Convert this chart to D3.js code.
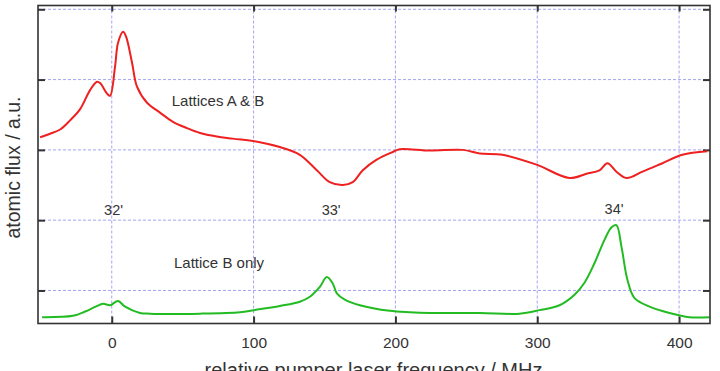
<!DOCTYPE html>
<html>
<head>
<meta charset="utf-8">
<script src="https://cdn.jsdelivr.net/npm/d3@7"></script>
<style>
  html, body { margin: 0; padding: 0; background: #fff; }
  svg { display: block; }
  text { font-family: "Liberation Sans", Arial, Helvetica, sans-serif; }
</style>
</head>
<body>
<svg id="chart" width="720" height="371"></svg>
<script>
// ---- data ----
const xTicks = [0, 100, 200, 300, 400];
const yGrid = [1, 2, 3, 4, 5];
const xDomain = [-52, 421.8];
const yDomain = [0.53, 5.054];

// Lattices A & B (MHz, a.u.)
const redX = [-50.5,-43.5,-36.4,-29.4,-22.3,-15.3,-10.4,-8.2,-3.3,-1.2,2.3,4.4,8.0,10.1,14.3,17.8,24.9,34.0,43.2,53.0,62.2,74.1,85.4,104.4,118.5,132.6,144.6,153.7,162.9,169.9,177.0,186.8,198.1,203.0,224.2,247.4,259.4,275.6,299.5,322.7,334.7,343.9,349.5,355.8,362.9,374.2,388.3,402.3,419.9];
const redY = [3.18,3.23,3.29,3.42,3.58,3.85,3.97,3.95,3.80,3.77,4.18,4.52,4.68,4.61,4.24,3.90,3.67,3.53,3.40,3.31,3.24,3.19,3.16,3.11,3.04,2.93,2.71,2.54,2.50,2.54,2.71,2.86,2.97,3.01,2.99,3.00,2.95,2.93,2.79,2.60,2.66,2.71,2.81,2.69,2.60,2.69,2.81,2.93,2.98];

// Lattice B only
const greenX = [-49.1,-27.3,-18.8,-11.3,-6.1,-1.2,4.4,9.4,19.9,27.0,62.2,90.4,100.2,118.5,132.6,139.7,146.7,151.6,155.8,158.7,164.3,174.9,196.0,210.1,224.2,259.4,287.5,301.6,315.7,326.3,333.3,340.4,347.4,352.4,355.8,359.4,363.6,368.6,379.2,393.2,407.3,421.4];
const greenY = [0.62,0.64,0.70,0.77,0.81,0.79,0.85,0.77,0.68,0.67,0.67,0.69,0.72,0.78,0.84,0.91,1.05,1.19,1.10,0.96,0.87,0.79,0.71,0.69,0.68,0.68,0.67,0.72,0.79,0.94,1.11,1.39,1.72,1.90,1.93,1.62,1.15,0.89,0.77,0.68,0.62,0.62];

const peakLabels = ["32'", "33'", "34'"];
const peakX = [-5.4, 148.0, 347.5];
const peakY = [2.07, 2.07, 2.09];

const seriesLabels = ["Lattices A & B", "Lattice B only"];
const seriesLabelX = [42.3, 43.9];
const seriesLabelY = [3.62, 1.32];

const xLabel = "relative pumper laser frequency / MHz";
const yLabel = "atomic flux / a.u.";

// ---- layout ----
const L = 38, R = 710, T = 5.5, B = 323.5;
const svg = d3.select("#chart");
const x = d3.scaleLinear().domain(xDomain).range([L, R]);
const y = d3.scaleLinear().domain(yDomain).range([B, T]);

// grid
const gridColor = "#a4a4f4";
svg.append("g").selectAll("line").data(xTicks).join("line")
  .attr("x1", d => x(d)).attr("x2", d => x(d))
  .attr("y1", T).attr("y2", B)
  .attr("stroke", gridColor).attr("stroke-width", 1).attr("stroke-dasharray", "3,2");
svg.append("g").selectAll("line").data(yGrid).join("line")
  .attr("x1", L).attr("x2", R)
  .attr("y1", d => y(d)).attr("y2", d => y(d))
  .attr("stroke", gridColor).attr("stroke-width", 1).attr("stroke-dasharray", "3,2");

// axes with inward ticks
const axisColor = "#333";
function styleAxis(g) {
  g.select(".domain").remove();
  g.selectAll(".tick line").attr("stroke", axisColor).attr("stroke-width", 2);
  g.selectAll(".tick text").attr("fill", "#333").style("font-size", "15.5px")
    .style("font-family", "'Liberation Sans', Arial, sans-serif");
}
svg.append("g").attr("transform", `translate(0,${B})`)
  .call(d3.axisBottom(x).tickValues(xTicks).tickSize(-7).tickPadding(13).tickFormat(d3.format("d")))
  .call(styleAxis);
svg.append("g").attr("transform", `translate(0,${T})`)
  .call(d3.axisTop(x).tickValues(xTicks).tickSize(-6).tickFormat(""))
  .call(styleAxis);
svg.append("g").attr("transform", `translate(${L},0)`)
  .call(d3.axisLeft(y).tickValues(yGrid).tickSize(-7).tickFormat(""))
  .call(styleAxis);
svg.append("g").attr("transform", `translate(${R},0)`)
  .call(d3.axisRight(y).tickValues(yGrid).tickSize(-7).tickFormat(""))
  .call(styleAxis);

// curves
const line = d3.line().x(d => x(d[0])).y(d => y(d[1])).curve(d3.curveCatmullRom.alpha(0.5));
const redData = redX.map((v, i) => [v, redY[i]]);
const greenData = greenX.map((v, i) => [v, greenY[i]]);
svg.append("path").datum(redData).attr("d", line)
  .attr("fill", "none").attr("stroke", "#ee2020").attr("stroke-width", 2).attr("stroke-linejoin", "round");
svg.append("path").datum(greenData).attr("d", line)
  .attr("fill", "none").attr("stroke", "#22bb22").attr("stroke-width", 2).attr("stroke-linejoin", "round");

// frame
svg.append("rect").attr("x", L).attr("y", T).attr("width", R - L).attr("height", B - T)
  .attr("fill", "none").attr("stroke", axisColor).attr("stroke-width", 1.6);

// annotations
svg.append("g").selectAll("text").data(peakLabels).join("text")
  .attr("x", (d, i) => x(peakX[i])).attr("y", (d, i) => y(peakY[i]))
  .attr("fill", "#333").style("font-size", "14.5px").text(d => d);
svg.append("g").selectAll("text").data(seriesLabels).join("text")
  .attr("x", (d, i) => x(seriesLabelX[i])).attr("y", (d, i) => y(seriesLabelY[i]))
  .attr("fill", "#333").style("font-size", "15px").text(d => d);

// axis labels
svg.append("text").attr("x", (205 + 542) / 2).attr("y", 377)
  .attr("text-anchor", "middle").attr("fill", "#333").style("font-size", "20px").text(xLabel);
svg.append("text").attr("transform", `translate(20,${(95 + 240) / 2}) rotate(-90)`)
  .attr("text-anchor", "middle").attr("fill", "#333").style("font-size", "19.5px").text(yLabel);
</script>
</body>
</html>
